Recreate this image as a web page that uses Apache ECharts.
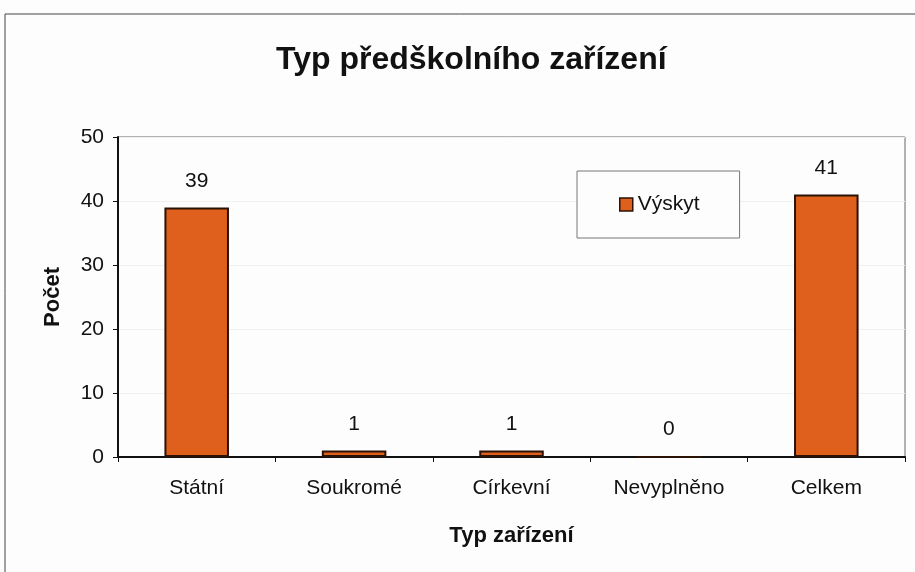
<!DOCTYPE html>
<html>
<head>
<meta charset="utf-8">
<script src="https://cdn.jsdelivr.net/npm/echarts@6/dist/echarts.min.js"></script>
<style>
  html, body { margin: 0; padding: 0; background: #fdfdfd; }
  #chart { width: 915px; height: 572px; }
</style>
</head>
<body>
<div id="chart"></div>
<script>
// data
let categories = ['Státní', 'Soukromé', 'Církevní', 'Nevyplněno', 'Celkem'];
let counts = [39, 1, 1, 0, 41];
let seriesName = 'Výskyt';

let chart = echarts.init(document.getElementById('chart'));
let font = 'Liberation Sans, Arial, sans-serif';

let option = {
    backgroundColor: '#fdfdfd',
    textStyle: { fontFamily: font },
    graphic: [{
        type: 'rect',
        shape: { x: 5, y: 14, width: 940, height: 600 },
        style: { fill: 'none', stroke: '#444', lineWidth: 1 },
        silent: true
    }],
    title: {
        text: 'Typ předškolního zařízení',
        left: 271,
        top: 39,
        textStyle: { fontFamily: font, fontSize: 32, fontWeight: 'bold', color: '#111' }
    },
    legend: {
        data: [seriesName],
        left: 577,
        top: 171,
        padding: [23, 40, 23, 42],
        borderColor: '#777',
        borderWidth: 1,
        backgroundColor: '#fdfdfd',
        icon: 'rect',
        itemWidth: 13,
        itemHeight: 13,
        itemGap: 6,
        itemStyle: { borderColor: '#2a1205', borderWidth: 1.5 },
        textStyle: { fontFamily: font, fontSize: 21, color: '#111' }
    },
    grid: {
        left: 118,
        right: 10,
        top: 137,
        bottom: 115,
        show: true,
        borderColor: '#666',
        borderWidth: 1,
        backgroundColor: 'transparent'
    },
    xAxis: {
        type: 'category',
        data: categories,
        name: 'Typ zařízení',
        nameLocation: 'middle',
        nameGap: 68,
        nameTextStyle: { fontFamily: font, fontSize: 22, fontWeight: 'bold', color: '#111' },
        axisLine: { lineStyle: { color: '#111', width: 2 } },
        axisTick: { show: true, length: 5, lineStyle: { color: '#111' } },
        axisLabel: { fontFamily: font, fontSize: 21, color: '#111', margin: 21 }
    },
    yAxis: {
        type: 'value',
        min: 0,
        max: 50,
        interval: 10,
        name: 'Počet',
        nameLocation: 'middle',
        nameGap: 54,
        nameTextStyle: { fontFamily: font, fontSize: 22, fontWeight: 'bold', color: '#111' },
        axisLine: { show: true, lineStyle: { color: '#111', width: 2 } },
        axisTick: { show: true, length: 5, lineStyle: { color: '#111' } },
        axisLabel: { fontFamily: font, fontSize: 21, color: '#111', margin: 14 },
        splitLine: { show: true, lineStyle: { color: '#f0f0f0', width: 1 } }
    },
    series: [{
        name: seriesName,
        type: 'bar',
        data: counts,
        barWidth: '41%',
        itemStyle: { color: '#df5f1d', borderColor: '#2a1205', borderWidth: 2 },
        label: {
            show: true,
            position: 'top',
            distance: 16,
            fontFamily: font,
            fontSize: 21,
            color: '#111'
        }
    }]
};

chart.setOption(option);
</script>
</body>
</html>
